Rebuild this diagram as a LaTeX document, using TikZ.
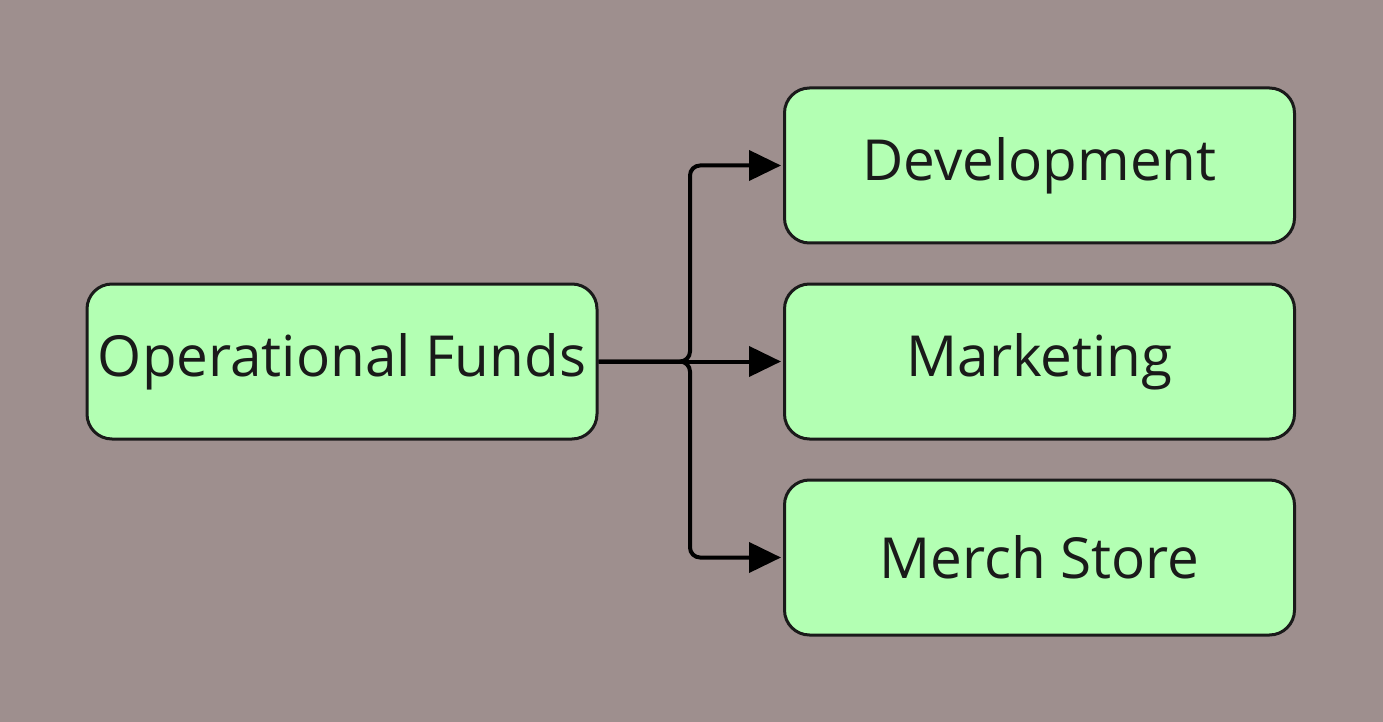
\documentclass[tikz,border=0pt]{standalone}
\usepackage{fontspec}
\setmainfont{Open Sans}
\usetikzlibrary{arrows.meta}
\definecolor{bgmauve}{HTML}{9E8F8E}
\definecolor{boxgreen}{HTML}{B3FFB3}
\definecolor{inkdark}{HTML}{1A1A1A}
\tikzset{
	fundbox/.style={draw=inkdark,fill=boxgreen,line width=1.5pt,rounded corners=12.5pt,
		minimum width=255pt,minimum height=77.5pt,inner sep=0pt,text=inkdark,
		font=\fontsize{28.3}{34}\selectfont},
	link/.style={draw=black,line width=2pt,rounded corners=5pt,
		-{Triangle[length=16pt,width=15pt]},shorten >=1pt}
}
\begin{document}
\begin{tikzpicture}[x=0.5pt,y=-0.5pt]
		\fill[bgmauve] (0,0) rectangle (1383,722);
		\useasboundingbox (0,0) rectangle (1383,722);
		\node[fundbox] (ops) at (342,361.5) {Operational Funds};
		\node[fundbox] (dev) at (1039.5,165.5) {Development};
		\node[fundbox] (mkt) at (1039.5,361.5) {Marketing};
		\node[fundbox] (merch) at (1039.5,557.5) {Merch Store};
		\coordinate (fork) at (690,361.5);
		\draw[link] (ops.east) -- (fork) |- (dev.west);
		\draw[link] (ops.east) -- (mkt.west);
		\draw[link] (ops.east) -- (fork) |- (merch.west);
\end{tikzpicture}
\end{document}
